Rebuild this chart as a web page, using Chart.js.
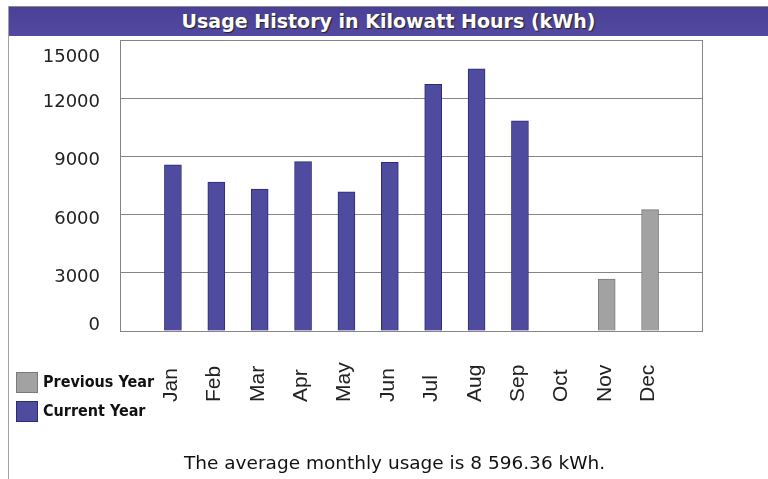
<!DOCTYPE html>
<html>
<head>
<meta charset="utf-8">
<script src="https://cdn.jsdelivr.net/npm/chart.js@4/dist/chart.umd.min.js"></script>
<style>
  body { margin: 0; background: #fff; }
  #wrap { position: relative; width: 768px; height: 479px; overflow: hidden; }
  #edge { position: absolute; left: 8px; top: 6px; width: 1px; height: 473px; background: #a0a0a0; }
  #title {
    position: absolute; left: 9px; top: 6px; width: 759px; height: 29px;
    border-top: 1px solid #8a8a8a;
    background: linear-gradient(#4a4096, #5349a0);
    color: #fff; font: bold 19px "DejaVu Sans", sans-serif;
    text-align: center; line-height: 29px; text-shadow: 1px 1px 1px #222;
  }
  #legend { position: absolute; left: 16px; top: 372px; font: bold 16px "DejaVu Sans Condensed", "DejaVu Sans", sans-serif; font-stretch: condensed; color: #111; }
  #legend div { height: 29px; display: flex; align-items: flex-start; }
  #legend span.box { width: 20px; height: 19px; margin-right: 5px; border: 1px solid; }
  #legend span.txt { line-height: 20px; }
  #note { position: absolute; left: 184px; top: 452px; font: 18.5px "DejaVu Sans", sans-serif; color: #111; }
  canvas { position: absolute; left: 0; top: 0; }
</style>
</head>
<body>
<div id="wrap">
  <div id="edge"></div>
  <div id="title">Usage History in Kilowatt Hours (kWh)</div>
  <canvas id="usageChart" width="768" height="479"></canvas>
  <div id="legend"></div>
  <div id="note">The average monthly usage is 8 596.36 kWh.</div>
</div>
<script>
const months = ["Jan", "Feb", "Mar", "Apr", "May", "Jun", "Jul", "Aug", "Sep", "Oct", "Nov", "Dec"];
const previousYear = [null, null, null, null, null, null, null, null, null, null, 2670, 6260];
const currentYear = [8560, 7670, 7320, 8730, 7180, 8700, 12720, 13510, 10830, null, null, null];
const yTicks = [0, 3000, 6000, 9000, 12000, 15000];

const toPoints = (arr) =>
  months.map((m, i) => ({ x: i, y: arr[i] })).filter((p) => p.y !== null);

// box round the plot, plus the month and value labels placed like the scan
const labelsPlugin = {
  id: "labels",
  beforeDatasetsDraw(chart) {
    const { ctx, chartArea } = chart;
    ctx.save();
    ctx.strokeStyle = "#858585";
    ctx.lineWidth = 1;
    ctx.strokeRect(chartArea.left + 0.5, chartArea.top + 0.5,
      chartArea.right - chartArea.left - 1, chartArea.bottom - chartArea.top);
    ctx.restore();
  },
  afterDraw(chart) {
    const { ctx, chartArea } = chart;
    const xs = chart.scales.x;
    const ys = chart.scales.y;
    ctx.save();
    ctx.fillStyle = "#222";
    ctx.font = '21px "Liberation Sans", Arial, sans-serif';
    ctx.textAlign = "left";
    ctx.textBaseline = "alphabetic";
    months.forEach((m, i) => {
      const x = xs.getPixelForValue(i);
      ctx.save();
      ctx.translate(x + 4, 402);
      ctx.rotate(-Math.PI / 2);
      ctx.fillText(m, 0, 0);
      ctx.restore();
    });
    ctx.font = '18px "DejaVu Sans", sans-serif';
    ctx.textAlign = "right";
    ys.ticks.forEach((t) => {
      const p = ys.getPixelForValue(t.value);
      const y = Math.min(Math.max(p + 9, chartArea.top + 22), chartArea.bottom - 1);
      ctx.fillText(String(t.value), 100, y);
    });
    ctx.restore();
  },
};

const usageChart = new Chart(document.getElementById("usageChart").getContext("2d"), {
  type: "bar",
  data: {
    datasets: [
      {
        label: "Previous Year",
        data: toPoints(previousYear),
        backgroundColor: "#a2a2a2",
        borderColor: "#7a7a7a",
        borderWidth: 1,
      },
      {
        label: "Current Year",
        data: toPoints(currentYear),
        backgroundColor: "#4f4b9f",
        borderColor: "#2d2a7a",
        borderWidth: 1,
      },
    ],
  },
  options: {
    responsive: false,
    animation: false,
    events: [],
    grouped: false,
    barThickness: 17,
    layout: { padding: { left: 120, top: 40, right: 65, bottom: 148 } },
    plugins: { legend: { display: false }, tooltip: { enabled: false } },
    scales: {
      x: {
        type: "linear",
        offset: false,
        min: -1.22,
        max: 12.22,
        display: false,
      },
      y: {
        min: yTicks[0],
        max: yTicks[yTicks.length - 1],
        ticks: { display: false, stepSize: yTicks[1] - yTicks[0] },
        grid: { color: "#858585", drawTicks: false },
        border: { display: false },
      },
    },
  },
  plugins: [labelsPlugin],
});

const legend = document.getElementById("legend");
usageChart.data.datasets.forEach((ds) => {
  const row = document.createElement("div");
  row.innerHTML = '<span class="box"></span><span class="txt"></span>';
  row.firstChild.style.background = ds.backgroundColor;
  row.firstChild.style.borderColor = ds.borderColor;
  row.lastChild.textContent = ds.label;
  legend.appendChild(row);
});
</script>
</body>
</html>
